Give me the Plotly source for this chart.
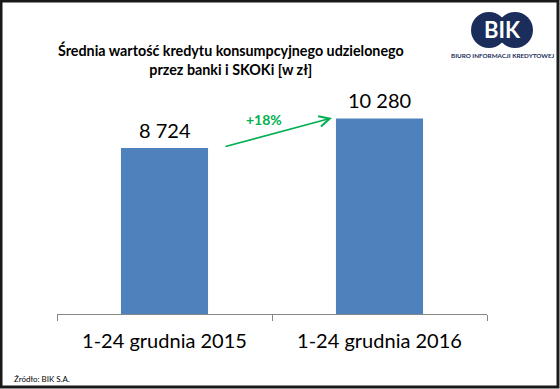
import plotly.graph_objects as go

categories = ["1-24 grudnia 2015", "1-24 grudnia 2016"]
values = [8724, 10280]
value_labels = ["8 724", "10 280"]
change_label = "+18%"
title_text = "Średnia wartość kredytu konsumpcyjnego udzielonego<br>przez banki i SKOKi [w zł]"
source_text = "Źródło: BIK S.A."

W, H = 560, 389
BAR = "#4f81bd"
GREEN = "#00b050"
NAVY = "#1b2d5a"
FONT = "Lato"

def px(x):
    return x / W

def py(y):
    return 1 - y / H

fig = go.Figure()
fig.add_trace(go.Bar(
    x=categories, y=values, marker=dict(color=BAR, line=dict(width=0)),
    hoverinfo="skip", showlegend=False,
))

annotations = []
for c, v, lab in zip(categories, values, value_labels):
    annotations.append(dict(
        x=c, y=v, xref="x", yref="y", text=lab, showarrow=False,
        yanchor="bottom", yshift=4, font=dict(family=FONT, size=20, color="#000000"),
    ))

annotations += [
    dict(x=px(231), y=py(59), xref="paper", yref="paper", text=title_text,
         showarrow=False, xanchor="center", yanchor="middle", align="center",
         font=dict(family=FONT, size=14.3, color="#000000", weight="bold")),
    dict(x=px(264), y=py(120), xref="paper", yref="paper", text="<b>" + change_label + "</b>",
         showarrow=False, xanchor="center", yanchor="middle",
         font=dict(family=FONT, size=14, color=GREEN)),
    dict(x=px(332), y=py(118), ax=224 - 332, ay=147 - 118, xref="paper", yref="paper",
         axref="pixel", ayref="pixel", text="", showarrow=True, arrowhead=5,
         arrowsize=1.3, arrowwidth=1.6, arrowcolor=GREEN, standoff=0, startstandoff=0),
    dict(x=px(12), y=py(379), xref="paper", yref="paper", text=source_text,
         showarrow=False, xanchor="left", yanchor="middle",
         font=dict(family=FONT, size=8, color="#000000")),
    dict(x=px(502), y=py(30), xref="paper", yref="paper", text="<b>BIK</b>",
         showarrow=False, xanchor="center", yanchor="middle",
         font=dict(family=FONT, size=22, color="#ffffff")),
    dict(x=px(503), y=py(56), xref="paper", yref="paper", text="<b>BIURO INFORMACJI KREDYTOWEJ</b>",
         showarrow=False, xanchor="center", yanchor="middle",
         font=dict(family=FONT, size=6.3, color=NAVY)),
]

shapes = [
    dict(type="circle", xref="paper", yref="paper", x0=px(471), x1=px(507), y0=py(12), y1=py(48),
         fillcolor=NAVY, line=dict(width=0), layer="below"),
    dict(type="circle", xref="paper", yref="paper", x0=px(497), x1=px(533), y0=py(12), y1=py(48),
         fillcolor=NAVY, line=dict(width=0), layer="below"),
    dict(type="rect", xref="paper", yref="paper", x0=px(1), x1=px(558), y0=py(1), y1=py(387),
         line=dict(color="#1a1a1a", width=3), fillcolor="rgba(0,0,0,0)"),
]

fig.update_layout(
    width=W, height=H, margin=dict(l=0, r=0, t=0, b=0),
    paper_bgcolor="#ffffff", plot_bgcolor="#ffffff",
    bargap=0.595,
    xaxis=dict(domain=[px(57), px(487)], showline=True, linecolor="#868686", linewidth=1,
               ticks="outside", tickson="boundaries", ticklen=6, tickcolor="#868686",
               tickfont=dict(family=FONT, size=20, color="#000000"), ticklabelstandoff=9,
               showgrid=False, zeroline=False, fixedrange=True),
    yaxis=dict(domain=[py(314), py(100)], range=[0, 11247], visible=False, fixedrange=True),
    annotations=annotations, shapes=shapes,
)

fig.write_html("out.html", config={"displayModeBar": False},
               post_script="document.body.style.margin='0';document.body.style.overflow='hidden';")
